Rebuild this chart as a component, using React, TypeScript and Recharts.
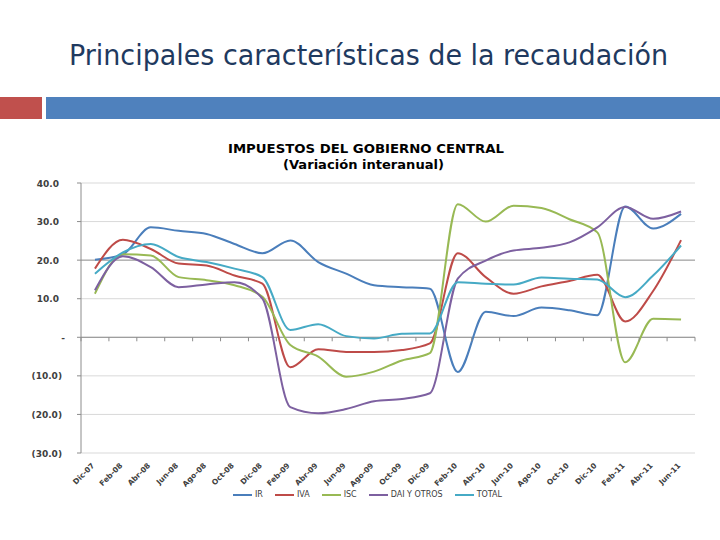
import React from "react";
import { LineChart, Line, XAxis, YAxis, CartesianGrid, Legend, ReferenceLine } from "recharts";

const months = ["Dic-07","Feb-08","Abr-08","Jun-08","Ago-08","Oct-08","Dic-08","Feb-09","Abr-09","Jun-09","Ago-09","Oct-09","Dic-09","Feb-10","Abr-10","Jun-10","Ago-10","Oct-10","Dic-10","Feb-11","Abr-11","Jun-11"];

const ir = [20.1, 21.5, 28.5, 27.6, 26.8, 24.2, 21.8, 25.1, 19.5, 16.5, 13.5, 13.0, 12.6, -9.0, 6.6, 5.5, 7.7, 7.0, 5.7, 33.9, 28.2, 32.0];
const iva = [17.8, 25.3, 22.9, 19.1, 18.6, 16.0, 13.9, -7.8, -3.1, -3.8, -3.8, -3.3, -1.6, 21.8, 15.6, 11.3, 13.2, 14.6, 16.2, 4.1, 12.0, 25.2];
const isc = [11.3, 21.5, 21.2, 15.6, 14.8, 13.5, 10.5, -2.0, -5.0, -10.2, -8.9, -6.0, -4.1, 34.5, 30.0, 34.1, 33.5, 30.6, 27.2, -6.5, 4.8, 4.6];
const dai = [12.2, 21.0, 18.2, 13.0, 13.7, 14.3, 10.0, -18.1, -19.7, -18.6, -16.6, -16.0, -14.5, 15.2, 19.9, 22.5, 23.2, 24.6, 28.5, 33.8, 30.7, 32.6];
const total = [16.5, 22.0, 24.2, 20.8, 19.5, 17.8, 15.6, 1.9, 3.4, 0.3, -0.3, 0.9, 1.0, 14.3, 13.9, 13.7, 15.5, 15.2, 15.0, 10.4, 16.0, 23.8];

const seriesKeys = ["ir", "iva", "isc", "dai", "total"];
const seriesNames = ["IR", "IVA", "ISC", "DAI Y OTROS", "TOTAL"];
const seriesColors = ["#4A7EBB", "#BE4B48", "#98B954", "#7D60A0", "#46AAC5"];
const yTicks = [-30, -20, -10, 0, 10, 20, 30, 40];

const data = months.map((m, i) => ({ m, ir: ir[i], iva: iva[i], isc: isc[i], dai: dai[i], total: total[i] }));

const W = 720;
const H = 540;
const PLOT_LEFT = 81;
const PLOT_RIGHT = 695;
const PLOT_TOP = 183;
const PLOT_BOTTOM = 453;
const Y_MIN = -30;
const Y_MAX = 40;
const Y_AXIS_W = 60;
const X_AXIS_H = 40;
const HALF_BAND = (PLOT_RIGHT - PLOT_LEFT) / months.length / 2;
const ZERO_Y = PLOT_TOP + ((PLOT_BOTTOM - PLOT_TOP) * Y_MAX) / (Y_MAX - Y_MIN);
const FONT = "'DejaVu Sans', sans-serif";

const fmtY = (v: number) => {
  if (v === 0) return "-";
  if (v < 0) return `(${Math.abs(v).toFixed(1)})`;
  return v.toFixed(1);
};

const XTick = (props: any) => {
  const { x, payload, index } = props;
  const off = HALF_BAND;
  const ty = PLOT_BOTTOM + 13;
  return (
    <g>
      <line x1={x - off} x2={x - off} y1={ZERO_Y} y2={ZERO_Y + 4} stroke="#8c8c8c" strokeWidth={1} />
      {index === months.length - 1 ? (
        <line x1={x + off} x2={x + off} y1={ZERO_Y} y2={ZERO_Y + 4} stroke="#8c8c8c" strokeWidth={1} />
      ) : null}
      <text
        x={x}
        y={ty}
        transform={`rotate(-45 ${x} ${ty})`}
        textAnchor="end"
        fontSize={7.5}
        fontWeight="bold"
        fontFamily={FONT}
        fill="#404040"
      >
        {payload.value}
      </text>
    </g>
  );
};

const YTick = (props: any) => {
  const { x, y, payload } = props;
  const v = payload.value as number;
  const dx = v > 0 ? -3 : v === 0 ? 3 : 0;
  return (
    <text x={x + dx} y={y} dy={3.5} textAnchor="end" fontSize={9} fontWeight="bold" fontFamily={FONT} fill="#404040">
      {fmtY(v)}
    </text>
  );
};

const renderLegend = () => (
  <div style={{ display: "flex", justifyContent: "center", alignItems: "center", paddingLeft: 15, fontFamily: FONT, fontSize: 8, color: "#404040" }}>
    {seriesNames.map((n, i) => (
      <div key={n} style={{ display: "flex", alignItems: "center", marginRight: i === seriesNames.length - 1 ? 0 : 12 }}>
        <svg width={19} height={4} style={{ display: "block" }}>
          <line x1={0} x2={19} y1={2} y2={2} stroke={seriesColors[i]} strokeWidth={2} />
        </svg>
        <span style={{ marginLeft: 3, lineHeight: "10px" }}>{n}</span>
      </div>
    ))}
  </div>
);

export default function App() {
  return (
    <div style={{ position: "absolute", left: 0, top: 0, width: W, height: H, background: "#ffffff", overflow: "hidden" }}>
      <svg width={W} height={H} style={{ position: "absolute", left: 0, top: 0 }}>
        <text x={69} y={65} fontSize={28} fontFamily="'DejaVu Sans Condensed', 'DejaVu Sans', sans-serif" fill="#1F3A60" textLength={599} lengthAdjust="spacingAndGlyphs">
          Principales características de la recaudación
        </text>
        <rect x={0} y={97} width={42} height={22} fill="#C0504D" />
        <rect x={46} y={97} width={674} height={22} fill="#4F81BD" />
        <text x={228} y={153} fontSize={13} fontWeight="bold" fontFamily={FONT} fill="#000000" textLength={276} lengthAdjust="spacingAndGlyphs">
          IMPUESTOS DEL GOBIERNO CENTRAL
        </text>
        <text x={283} y={169} fontSize={13} fontWeight="bold" fontFamily={FONT} fill="#000000" textLength={161} lengthAdjust="spacingAndGlyphs">
          (Variación interanual)
        </text>
      </svg>
      <div style={{ position: "absolute", left: 0, top: 0 }}>
        <LineChart
          width={W}
          height={H}
          data={data}
          margin={{ top: PLOT_TOP, right: W - PLOT_RIGHT, bottom: H - PLOT_BOTTOM - X_AXIS_H, left: PLOT_LEFT - Y_AXIS_W }}
        >
          <CartesianGrid vertical={false} stroke="#d9d9d9" strokeWidth={1} />
          <XAxis
            dataKey="m"
            interval={0}
            height={X_AXIS_H}
            tickLine={false}
            axisLine={false}
            tick={<XTick />}
            padding={{ left: HALF_BAND, right: HALF_BAND }}
          />
          <YAxis
            domain={[Y_MIN, Y_MAX]}
            ticks={yTicks}
            width={Y_AXIS_W}
            tickSize={4}
            tickMargin={15}
            tickLine={{ stroke: "#8c8c8c" }}
            axisLine={{ stroke: "#8c8c8c" }}
            tick={<YTick />}
            allowDataOverflow
          />
          <ReferenceLine y={20} stroke="#9a9a9a" strokeWidth={1} />
          <ReferenceLine y={0} stroke="#8c8c8c" strokeWidth={1} />
          <Legend
            verticalAlign="middle"
            align="center"
            content={renderLegend}
            wrapperStyle={{ position: "absolute", left: 0, top: 490, width: W, height: 12 }}
          />
          {seriesKeys.map((k, i) => (
            <Line
              key={k}
              type="monotone"
              dataKey={k}
              name={seriesNames[i]}
              stroke={seriesColors[i]}
              strokeWidth={2}
              dot={false}
              activeDot={false}
              isAnimationActive={false}
            />
          ))}
        </LineChart>
      </div>
    </div>
  );
}
